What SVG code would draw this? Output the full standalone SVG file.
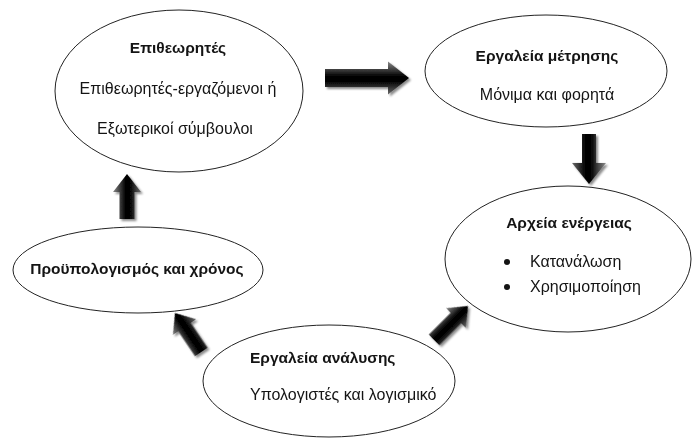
<svg xmlns="http://www.w3.org/2000/svg" width="693" height="438" viewBox="0 0 693 438">
<defs>
<linearGradient id="ag" x1="0" y1="0" x2="1" y2="0">
<stop offset="0" stop-color="#8a8a8a"/>
<stop offset="0.45" stop-color="#000"/>
<stop offset="0.6" stop-color="#000"/>
<stop offset="1" stop-color="#6a6a6a"/>
</linearGradient>
<filter id="sh" x="-30%" y="-30%" width="160%" height="160%">
<feDropShadow dx="2" dy="2" stdDeviation="1.2" flood-color="#000" flood-opacity="0.45"/>
</filter>
</defs>
<style>
.node ellipse{fill:#fff;stroke:#222;stroke-width:1}
text{font-family:"Liberation Sans","Noto Sans",sans-serif;fill:#141414;font-size:16px}
.t{font-weight:bold;font-size:15.5px}
.m{text-anchor:middle}
.arr{fill:url(#ag)}
</style>
<rect width="693" height="438" fill="#fff"/>
<g id="connectors" filter="url(#sh)">
<path class="arr" transform="translate(409,78) rotate(90)" d="M0,0 L16.5,21 L9,21 L9,84 L-9,84 L-9,21 L-16.5,21 Z"/>
<path class="arr" transform="translate(589,184) rotate(180)" d="M0,0 L17,21 L7,21 L7,50 L-7,50 L-7,21 L-17,21 Z"/>
<path class="arr" transform="translate(127,174)" d="M0,0 L14,18 L7.5,18 L7.5,45 L-7.5,45 L-7.5,18 L-14,18 Z"/>
<path class="arr" transform="translate(175,313) rotate(-34)" d="M0,0 L14,17 L7.5,17 L7.5,47 L-7.5,47 L-7.5,17 L-14,17 Z"/>
<path class="arr" transform="translate(468,306) rotate(45)" d="M0,0 L14,17 L7.5,17 L7.5,48 L-7.5,48 L-7.5,17 L-14,17 Z"/>
</g>
<g id="n1" class="node">
<ellipse cx="179" cy="91" rx="124" ry="81"/>
<text class="t m" x="178" y="53">Επιθεωρητές</text>
<text class="m" x="178" y="94">Επιθεωρητές-εργαζόμενοι ή</text>
<text class="m" x="175" y="134">Εξωτερικοί σύμβουλοι</text>
</g>
<g id="n2" class="node">
<ellipse cx="546" cy="71" rx="121" ry="56"/>
<text class="t m" x="547" y="61">Εργαλεία μέτρησης</text>
<text class="m" x="547" y="100">Μόνιμα και φορητά</text>
</g>
<g id="n3" class="node">
<ellipse cx="568" cy="259" rx="123" ry="73"/>
<text class="t m" x="569" y="228">Αρχεία ενέργειας</text>
<circle cx="507" cy="262" r="3" fill="#141414"/>
<circle cx="507" cy="287" r="3" fill="#141414"/>
<text x="530" y="267">Κατανάλωση</text>
<text x="530" y="292">Χρησιμοποίηση</text>
</g>
<g id="n4" class="node">
<ellipse cx="138" cy="270" rx="125" ry="43"/>
<text class="t m" x="137" y="274">Προϋπολογισμός και χρόνος</text>
</g>
<g id="n5" class="node">
<ellipse cx="329" cy="381" rx="126" ry="56"/>
<text class="t" x="250" y="363">Εργαλεία ανάλυσης</text>
<text x="250" y="400">Υπολογιστές  και λογισμικό</text>
</g>
</svg>
